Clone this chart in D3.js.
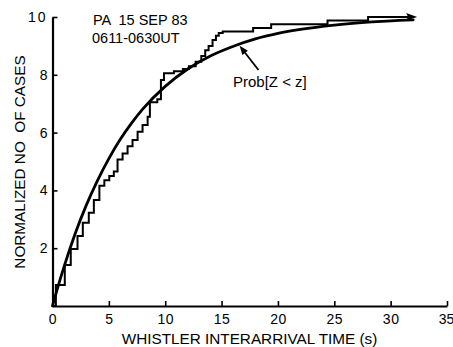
<!DOCTYPE html>
<html>
<head>
<meta charset="utf-8">
<script src="https://cdn.jsdelivr.net/npm/d3@7"></script>
<style>
  html, body { margin: 0; padding: 0; background: #fff; }
  svg { display: block; }
  text { font-family: "Liberation Sans", Arial, Helvetica, sans-serif; fill: #000; }
</style>
</head>
<body>
<svg id="chart" width="453" height="347"></svg>
<script>
// ---- data ----
const xTicks = [0, 5, 10, 15, 20, 25, 30, 35];
const yTicks = [2, 4, 6, 8, 10];

// empirical staircase: step position (s) and the level reached after the step
const stepZ = [0, 0.3, 1.09, 1.62, 2.22, 2.69, 3.22, 3.67, 4.16, 4.6, 5.04, 5.44, 5.77,
               6.22, 6.66, 7.1, 7.55, 7.99, 8.44, 8.64, 9.3, 9.62, 9.89, 10.77, 11.57,
               12.1, 12.7, 13.2, 13.55, 13.85, 14.2, 14.5, 14.75, 15.1, 17.8, 19.4, 24.4, 28.0, 32.0];
const stepN = [0, 0.73, 1.42, 1.97, 2.42, 2.88, 3.23, 3.67, 4.16, 4.35, 4.5, 4.65, 5.07,
               5.28, 5.53, 5.74, 6.03, 6.26, 6.55, 7.05, 7.15, 7.82, 8.05, 8.12, 8.2,
               8.3, 8.45, 8.65, 8.85, 9.0, 9.2, 9.35, 9.45, 9.5, 9.62, 9.75, 9.88, 10.0, 10.0];

// smooth theoretical curve Prob[Z<z]
const curveZ = [0, 0.5, 1, 2, 3, 4, 5, 6, 7, 8, 10, 12, 14, 16, 18, 20, 22, 25, 28, 32];
const curveN = [0, 0.69, 1.33, 2.49, 3.49, 4.35, 5.10, 5.76, 6.32, 6.81, 7.60, 8.20, 8.65,
                8.98, 9.24, 9.43, 9.57, 9.72, 9.82, 9.90];

const titleLines = ["PA  15 SEP 83", "0611-0630UT"];
const xLabel = "WHISTLER INTERARRIVAL TIME (s)";
const yLabel = "NORMALIZED NO  OF CASES";
const curveLabel = "Prob[Z < z]";

// ---- drawing ----
const svg = d3.select("#chart");
svg.append("rect").attr("width", 453).attr("height", 347).attr("fill", "#fff");

const x = d3.scaleLinear().domain([0, 35]).range([52.5, 447]);
const y = d3.scaleLinear().domain([0, 10]).range([306, 17]);

// x axis
const gx = svg.append("g").attr("transform", `translate(0,${y(0)})`)
  .call(d3.axisBottom(x).tickValues(xTicks).tickFormat(d3.format("d"))
        .tickSizeInner(-5).tickSizeOuter(0).tickPadding(6));
gx.select(".domain").attr("stroke", "#000").attr("stroke-width", 2.2);
gx.selectAll(".tick line").attr("stroke", "#000").attr("stroke-width", 1.6);
gx.selectAll(".tick text").attr("font-size", 14).attr("font-family", null)
  .attr("letter-spacing", d => d === 35 ? 0 : 0.5).attr("dy", "0.85em")
  .attr("dx", d => d === 35 ? -1 : 0);

// y axis
const gy = svg.append("g").attr("transform", `translate(${x(0)},0)`)
  .call(d3.axisLeft(y).tickValues(yTicks).tickFormat(d3.format("d"))
        .tickSizeInner(-5).tickSizeOuter(0).tickPadding(5));
gy.select(".domain").attr("stroke", "#000").attr("stroke-width", 2.2);
gy.selectAll(".tick line").attr("stroke", "#000").attr("stroke-width", 1.6);
gy.selectAll(".tick text").attr("font-size", 14).attr("font-family", null)
  .attr("letter-spacing", d => d === 10 ? 2 : 0);

// staircase
const stairs = stepZ.map((z, i) => [z, stepN[i]]);
svg.append("path")
  .datum(stairs)
  .attr("fill", "none").attr("stroke", "#000").attr("stroke-width", 2)
  .attr("stroke-linejoin", "miter")
  .attr("d", d3.line().x(d => x(d[0])).y(d => y(d[1])).curve(d3.curveStepAfter));

// arrowhead at the end of the staircase
const endZ = stepZ[stepZ.length - 1], endN = stepN[stepN.length - 1];
const ex = x(endZ) + 4, ey = y(endN);
svg.append("path")
  .attr("d", `M${ex},${ey} L${ex - 11},${ey - 4} L${ex - 9},${ey} L${ex - 11},${ey + 3.5} Z`)
  .attr("fill", "#000");

// smooth curve
const smooth = curveZ.map((z, i) => [z, curveN[i]]);
svg.append("path")
  .datum(smooth)
  .attr("fill", "none").attr("stroke", "#000").attr("stroke-width", 2.8)
  .attr("stroke-linecap", "round")
  .attr("d", d3.line().x(d => x(d[0])).y(d => y(d[1])).curve(d3.curveMonotoneX));

// annotation arrow to curve
const tipZ = 16.6, tipN = curveN[13] + (tipZ - 16) / 2 * (curveN[14] - curveN[13]);
const tx = x(tipZ), ty = y(tipN) + 1.5;
const sx = 258.5, sy = 70;
const ang = Math.atan2(ty - sy, tx - sx);
svg.append("line").attr("x1", sx).attr("y1", sy)
  .attr("x2", tx - 6 * Math.cos(ang)).attr("y2", ty - 6 * Math.sin(ang))
  .attr("stroke", "#000").attr("stroke-width", 1.8);
const hl = 9, hw = 3.5;
const bx = tx - hl * Math.cos(ang), by = ty - hl * Math.sin(ang);
svg.append("path")
  .attr("d", `M${tx},${ty} L${bx + hw * Math.sin(ang)},${by - hw * Math.cos(ang)} L${bx - hw * Math.sin(ang)},${by + hw * Math.cos(ang)} Z`)
  .attr("fill", "#000");

svg.append("text").attr("x", 233).attr("y", 86.5)
  .attr("font-size", 15).text(curveLabel);

// title block
svg.append("text").attr("x", 93).attr("y", 25).attr("font-size", 14.5)
  .style("white-space", "pre").text(titleLines[0]);
svg.append("text").attr("x", 92).attr("y", 42.5).attr("font-size", 14.5).text(titleLines[1]);

// axis labels
svg.append("text").attr("x", 249.5).attr("y", 343.5).attr("text-anchor", "middle")
  .attr("font-size", 15.3).text(xLabel);
svg.append("text")
  .attr("transform", `translate(24.5,162) rotate(-90)`)
  .attr("text-anchor", "middle").attr("font-size", 15.3)
  .style("white-space", "pre").text(yLabel);
</script>
</body>
</html>
